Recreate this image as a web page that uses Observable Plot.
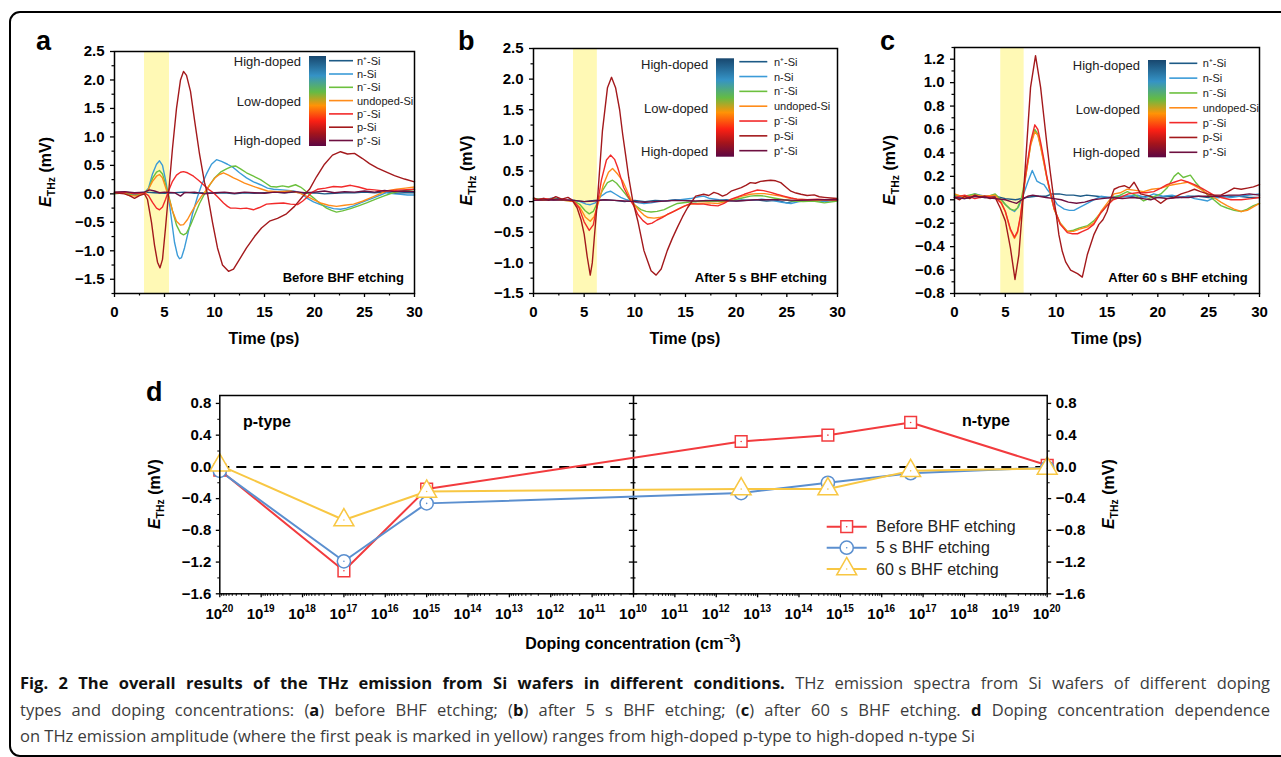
<!DOCTYPE html>
<html><head><meta charset="utf-8">
<script src="https://cdn.jsdelivr.net/npm/d3@7"></script>
<script src="https://cdn.jsdelivr.net/npm/@observablehq/plot@0.6"></script>
<style>
body{margin:0;background:#fff;}
#root{position:relative;width:1281px;height:757px;overflow:hidden;background:#fff;}
.panel{position:absolute;}
.panel svg{overflow:visible;}
#border{position:absolute;left:9px;top:11px;width:1330px;height:746px;border:2px solid #000;border-radius:11px;box-sizing:border-box;}
#caption{position:absolute;left:20px;top:670px;width:1250px;font-family:'Open Sans',sans-serif;font-size:16.5px;line-height:26.5px;color:#3c3c3c;}
#caption .jl{text-align:justify;text-align-last:justify;white-space:nowrap;}
#caption .ln{white-space:nowrap;}
#caption b{color:#111;font-weight:700;}
</style></head>
<body><div id="root"><div id="border"></div>
<div id="pa" class="panel" style="left:0;top:0"></div>
<div id="pb" class="panel" style="left:430px;top:0"></div>
<div id="pc" class="panel" style="left:860px;top:0"></div>
<div id="pd" class="panel" style="left:140px;top:375px"></div>
<div id="caption">
<div class="jl"><b>Fig. 2 The overall results of the THz emission from Si wafers in different conditions.</b> THz emission spectra from Si wafers of different doping</div>
<div class="jl">types and doping concentrations: (<b>a</b>) before BHF etching; (<b>b</b>) after 5 s BHF etching; (<b>c</b>) after 60 s BHF etching. <b>d</b> Doping concentration dependence</div>
<div class="ln">on THz emission amplitude (where the first peak is marked in yellow) ranges from high-doped p-type to high-doped n-type Si</div>
</div>
</div>
<script>
const FONT = "'Liberation Sans', Arial, Helvetica, sans-serif";

// ---------- samples ----------
const sampleKeys = ["n+", "n", "n-", "undoped", "p-", "p", "p+"];
const sampleLabels = ["n\u207A-Si", "n-Si", "n\u207B-Si", "undoped-Si", "p\u207B-Si", "p-Si", "p\u207A-Si"];
const sampleColors = ["#1d5a86", "#3b9bd8", "#6cc03e", "#ff8c1a", "#f22a2a", "#a3191c", "#6e1040"];
const timeTicks = [0, 5, 10, 15, 20, 25, 30];
const abYTicks = [-1.5, -1, -0.5, 0, 0.5, 1, 1.5, 2, 2.5];
const cYTicks = [-0.8, -0.6, -0.4, -0.2, 0, 0.2, 0.4, 0.6, 0.8, 1.0, 1.2];
const bandA = [3.0, 5.5], bandB = [3.95, 6.3], bandC = [4.55, 6.85];

// ---------- panel a: before BHF etching  [time (ps), E_THz (mV)] ----------
const a_nPlus = [[0,0.02],[1,0.03],[2,0.01],[3,0.03],[4,0.02],[5,0.01],[6,0.02],[7,0.03],[8,0.01],[9,0.02],[10,0.01],[11,0.02],[12,0.0],[13,0.02],[14,0.01],[15,0.02],[16,0.03],[17,0.02],[18,0.03],[19,0.01],[20,0.02],[21,0.0],[22,0.01],[23,0.02],[24,0.02],[25,0.03],[26,0.02],[27,0.03],[28,0.01],[29,0.02],[30,0.02]];
const a_n = [[0,0.01],[1,0.02],[2,-0.02],[3,0.02],[3.4,0.1],[3.8,0.35],[4.2,0.52],[4.5,0.58],[4.8,0.5],[5.1,0.25],[5.4,-0.05],[5.7,-0.45],[6.0,-0.85],[6.3,-1.08],[6.5,-1.14],[6.7,-1.12],[7.0,-0.95],[7.4,-0.65],[7.8,-0.35],[8.3,-0.05],[8.7,0.15],[9.2,0.35],[9.7,0.52],[10.2,0.6],[10.7,0.57],[11.3,0.52],[11.9,0.46],[12.5,0.37],[13.2,0.28],[13.9,0.21],[14.6,0.16],[15.3,0.1],[15.9,0.08],[16.8,0.07],[17.9,0.05],[18.6,0.02],[19.2,-0.07],[19.9,-0.14],[20.6,-0.19],[21.3,-0.23],[21.9,-0.26],[22.6,-0.27],[23.2,-0.25],[23.9,-0.21],[24.6,-0.16],[25.3,-0.11],[25.9,-0.07],[26.6,-0.02],[27.2,0.02],[28,0.0],[28.6,-0.01],[29.3,-0.02],[30,-0.02]];
const a_nMinus = [[0,0.0],[1,0.02],[2,-0.03],[3,0.0],[3.4,0.08],[3.8,0.27],[4.2,0.38],[4.5,0.41],[4.8,0.35],[5.1,0.17],[5.4,-0.02],[5.8,-0.3],[6.2,-0.55],[6.6,-0.69],[6.9,-0.72],[7.2,-0.69],[7.6,-0.55],[8.0,-0.38],[8.5,-0.17],[9.0,0.0],[9.5,0.15],[10.0,0.28],[10.6,0.38],[11.2,0.44],[11.7,0.48],[12.1,0.49],[12.6,0.44],[13.2,0.37],[13.9,0.31],[14.6,0.25],[15.1,0.19],[15.6,0.13],[16.2,0.12],[16.8,0.14],[17.4,0.12],[18.1,0.16],[18.6,0.12],[18.9,0.08],[19.4,0.0],[19.9,-0.07],[20.5,-0.16],[21.2,-0.25],[21.7,-0.29],[22.2,-0.32],[22.8,-0.3],[23.6,-0.26],[24.4,-0.21],[25.2,-0.16],[26.0,-0.1],[26.9,-0.04],[27.7,0.01],[28.6,0.05],[29.3,0.06],[30,0.08]];
const a_undoped = [[0,0.03],[0.8,0.02],[1.5,-0.03],[2.2,-0.04],[2.8,0.0],[3.3,0.05],[3.8,0.22],[4.2,0.31],[4.5,0.34],[4.8,0.28],[5.1,0.12],[5.4,-0.05],[5.8,-0.3],[6.2,-0.48],[6.6,-0.55],[6.9,-0.54],[7.3,-0.45],[7.7,-0.32],[8.2,-0.17],[8.7,-0.04],[9.1,0.05],[9.6,0.18],[10.1,0.29],[10.5,0.34],[10.9,0.37],[11.4,0.33],[11.9,0.28],[12.3,0.25],[13.0,0.19],[13.9,0.13],[14.6,0.09],[15.3,0.05],[16.3,0.04],[17.6,0.05],[18.4,0.02],[19.2,-0.04],[19.9,-0.1],[20.6,-0.16],[21.4,-0.2],[22.2,-0.22],[23.0,-0.2],[23.9,-0.18],[24.8,-0.13],[25.6,-0.07],[26.4,-0.01],[27.2,0.05],[28.2,0.08],[29.1,0.1],[30,0.12]];
const a_pMinus = [[0,0.02],[1,0.03],[2,0.0],[3,0.02],[3.4,-0.03],[3.8,-0.15],[4.2,-0.25],[4.5,-0.28],[4.8,-0.23],[5.1,-0.1],[5.4,0.05],[5.8,0.22],[6.2,0.33],[6.6,0.38],[6.9,0.39],[7.3,0.37],[7.9,0.31],[8.4,0.24],[8.9,0.16],[9.4,0.08],[9.9,0.02],[10.4,-0.07],[10.9,-0.16],[11.3,-0.22],[11.6,-0.25],[12.1,-0.25],[12.6,-0.26],[13.2,-0.25],[13.9,-0.28],[14.5,-0.24],[15.2,-0.18],[16.0,-0.17],[16.9,-0.16],[17.6,-0.18],[18.3,-0.19],[18.8,-0.13],[19.2,-0.07],[19.7,0.02],[20.3,0.08],[21.1,0.1],[21.9,0.13],[22.7,0.12],[23.6,0.15],[24.4,0.12],[25.2,0.08],[26.0,0.07],[26.9,0.05],[27.8,0.06],[28.8,0.07],[30,0.08]];
const a_p = [[0,0.02],[1,0.0],[1.5,-0.03],[2,-0.08],[2.5,-0.03],[3,0.0],[3.3,-0.1],[3.7,-0.5],[4.0,-0.9],[4.3,-1.2],[4.55,-1.3],[4.8,-1.15],[5.1,-0.6],[5.4,0.0],[5.8,0.8],[6.2,1.5],[6.6,2.0],[6.9,2.15],[7.2,2.08],[7.6,1.8],[8.0,1.3],[8.5,0.7],[9.0,0.2],[9.3,0.0],[9.8,-0.5],[10.3,-0.95],[10.8,-1.25],[11.4,-1.36],[11.9,-1.32],[12.5,-1.15],[13.2,-0.95],[14.0,-0.75],[14.7,-0.6],[15.5,-0.48],[16.3,-0.43],[17.2,-0.35],[18.0,-0.22],[18.8,-0.05],[19.5,0.08],[20.2,0.3],[21.0,0.52],[21.8,0.68],[22.6,0.74],[23.3,0.7],[24.0,0.71],[24.8,0.62],[25.5,0.53],[26.3,0.45],[27.2,0.38],[28.0,0.32],[29.0,0.26],[30,0.21]];
const a_pPlus = [[0,0.03],[1,0.04],[2,0.02],[3,0.03],[3.5,0.07],[4,0.05],[4.5,0.02],[5,0.03],[6,0.02],[6.6,-0.04],[7,0.02],[8,0.03],[9,0.0],[10,0.02],[11,0.03],[12,0.01],[13,0.03],[14,0.02],[15,0.01],[16,0.03],[17,0.02],[18,0.04],[19,0.02],[20,0.03],[21,0.05],[22,0.02],[23,0.04],[24,0.03],[25,0.05],[26,0.03],[27,0.06],[28,0.04],[29,0.05],[30,0.04]];

// ---------- panel b: after 5 s BHF etching ----------
const b_nPlus = [[0,0.05],[1,0.03],[2,0.06],[3,0.03],[4,0.02],[5,0.0],[6,0.02],[7,0.03],[8,0.02],[9,0.0],[10,0.02],[11,0.0],[12,0.02],[13,0.01],[14,0.03],[15,0.02],[16,0.0],[17,0.02],[18,0.01],[19,0.03],[20,0.01],[21,0.02],[22,0.03],[23,0.01],[24,0.02],[25,-0.02],[26,0.02],[27,0.01],[28,0.03],[29,0.02],[30,0.03]];
const b_n = [[0,0.03],[1,0.05],[2,0.02],[3,0.04],[4,0.02],[4.6,0.0],[5.2,-0.04],[5.6,-0.05],[6.1,-0.02],[6.6,0.08],[7.2,0.15],[7.6,0.17],[8.1,0.12],[8.6,0.07],[9.2,0.03],[9.8,0.0],[10.4,-0.02],[10.9,-0.03],[11.6,-0.02],[12.3,0.0],[12.9,0.01],[13.6,0.02],[14.5,0.03],[15.5,0.05],[16.3,0.08],[16.8,0.09],[17.4,0.05],[18.3,0.03],[19.5,0.01],[20.5,0.03],[21.5,0.02],[22.5,0.04],[23.5,0.02],[24.5,-0.01],[25.4,-0.03],[26.2,0.0],[27.5,0.02],[28.7,0.0],[30,0.02]];
const b_nMinus = [[0,0.05],[1,0.03],[2,0.04],[3,0.02],[4,0.01],[4.6,-0.05],[5.1,-0.15],[5.5,-0.2],[5.9,-0.16],[6.3,-0.02],[6.8,0.18],[7.3,0.31],[7.8,0.35],[8.2,0.3],[8.6,0.22],[9.1,0.12],[9.6,0.01],[10.1,-0.07],[10.6,-0.13],[11.1,-0.16],[11.6,-0.17],[12.2,-0.16],[12.9,-0.13],[13.5,-0.08],[14.2,-0.03],[15.2,-0.01],[16.2,0.0],[17.5,0.01],[18.8,0.0],[19.8,0.03],[20.6,0.06],[21.4,0.09],[22.1,0.1],[22.8,0.09],[23.7,0.06],[24.7,0.03],[25.6,0.01],[26.6,0.0],[27.6,0.01],[28.7,-0.02],[30,0.01]];
const b_undoped = [[0,0.03],[1,0.02],[2,0.04],[3,0.02],[4,0.0],[4.6,-0.1],[5.1,-0.25],[5.6,-0.32],[6.0,-0.24],[6.4,-0.02],[6.9,0.28],[7.4,0.48],[7.8,0.54],[8.3,0.45],[8.8,0.34],[9.2,0.19],[9.6,0.04],[10.0,-0.06],[10.4,-0.14],[10.9,-0.22],[11.3,-0.26],[11.9,-0.27],[12.4,-0.26],[13.0,-0.23],[13.6,-0.18],[14.3,-0.12],[14.9,-0.07],[15.6,-0.04],[16.3,-0.03],[17.3,-0.02],[18.2,-0.03],[19.0,0.0],[19.8,0.05],[20.6,0.09],[21.4,0.12],[22.1,0.13],[22.8,0.13],[23.6,0.11],[24.4,0.09],[25.2,0.06],[26.0,0.04],[27.0,0.03],[28.0,0.02],[29,0.03],[30,0.02]];
const b_pMinus = [[0,0.02],[1,0.05],[2,0.03],[3,0.04],[4,0.0],[4.5,-0.1],[5.0,-0.33],[5.5,-0.47],[5.9,-0.38],[6.3,-0.05],[6.7,0.35],[7.2,0.68],[7.6,0.76],[8.0,0.69],[8.3,0.56],[8.6,0.4],[8.9,0.23],[9.3,0.1],[9.6,0.01],[10.0,-0.1],[10.3,-0.21],[10.8,-0.31],[11.25,-0.37],[11.7,-0.35],[12.2,-0.3],[12.7,-0.26],[13.2,-0.21],[13.7,-0.17],[14.2,-0.13],[14.8,-0.08],[15.5,-0.03],[16.2,-0.04],[16.8,-0.04],[17.5,-0.06],[18.2,-0.07],[18.8,-0.03],[19.5,0.04],[20.2,0.08],[20.8,0.12],[21.5,0.16],[22.1,0.19],[22.7,0.18],[23.4,0.15],[24.0,0.12],[24.7,0.09],[25.4,0.06],[26.0,0.04],[27,0.03],[28,0.04],[29,0.03],[30,0.03]];
const b_p = [[0,0.06],[0.5,0.03],[1,0.05],[1.5,0.02],[2.2,0.08],[2.8,0.04],[3.4,0.07],[3.8,0.03],[4.3,-0.1],[4.7,-0.3],[5.0,-0.53],[5.3,-0.9],[5.6,-1.2],[5.8,-1.0],[6.0,-0.59],[6.3,0.0],[6.8,1.15],[7.3,1.86],[7.7,2.03],[8.1,1.86],[8.5,1.5],[8.8,1.1],[9.1,0.75],[9.4,0.39],[9.8,0.01],[10.3,-0.32],[10.9,-0.8],[11.6,-1.13],[12.1,-1.2],[12.6,-1.1],[13.2,-0.8],[13.7,-0.6],[14.2,-0.42],[14.7,-0.25],[15.2,-0.1],[16.0,0.09],[16.8,0.12],[17.3,0.1],[17.8,0.15],[18.2,0.13],[18.65,0.09],[19.1,0.12],[19.5,0.17],[20.0,0.2],[20.5,0.23],[21.0,0.27],[21.4,0.31],[21.9,0.3],[22.4,0.33],[22.9,0.34],[23.4,0.35],[23.9,0.34],[24.4,0.31],[24.9,0.24],[25.4,0.17],[25.9,0.14],[26.4,0.12],[27.0,0.1],[27.7,0.11],[28.2,0.08],[28.7,0.07],[29.3,0.06],[30,0.05]];
const b_pPlus = [[0,0.02],[2,0.03],[4,0.02],[5,0.0],[6,0.01],[7,0.03],[8,0.02],[9,0.01],[10,0.0],[11,-0.01],[12,0.0],[13,0.01],[14,0.02],[16,0.01],[18,0.02],[20,0.01],[22,0.03],[24,0.03],[26,0.02],[28,0.03],[30,0.03]];

// ---------- panel c: after 60 s BHF etching ----------
const c_nPlus = [[0,0.02],[1,0.01],[2,0.03],[3,0.02],[4,0.03],[5,0.01],[6,0.0],[7,0.02],[8,0.03],[9,0.03],[9.6,0.05],[10.3,0.05],[11,0.04],[11.7,0.04],[12.4,0.03],[13,0.04],[14,0.03],[15,0.02],[16,0.02],[17,0.03],[18,0.02],[19,0.03],[20,0.02],[21,0.03],[22,0.02],[23,0.03],[24,0.03],[25,0.02],[26,0.02],[27,0.03],[28,0.03],[29,0.02],[30,0.02]];
const c_n = [[0,0.03],[1,0.02],[2,0.05],[3,0.03],[4,0.04],[4.6,0.0],[5.0,-0.04],[5.5,-0.08],[5.9,-0.1],[6.3,-0.06],[6.8,0.05],[7.2,0.15],[7.65,0.25],[8.1,0.16],[8.5,0.14],[8.8,0.13],[9.1,0.09],[9.45,0.05],[10.1,-0.04],[10.8,-0.08],[11.3,-0.09],[11.75,-0.09],[12.4,-0.06],[13.06,-0.03],[13.7,0.0],[14.4,0.03],[15.2,0.02],[16.0,0.03],[17.0,0.03],[18.0,0.04],[18.8,0.02],[19.6,0.05],[20.5,0.03],[21.4,0.04],[22.3,0.02],[23.0,0.03],[23.6,0.01],[24.3,0.0],[24.9,-0.01],[25.6,0.02],[26.4,0.03],[27.2,0.02],[28.0,0.03],[29.0,0.04],[30,0.05]];
const c_nMinus = [[0,0.04],[1,0.03],[2,0.05],[3,0.02],[4,0.05],[4.6,0.0],[5.0,-0.04],[5.5,-0.08],[5.9,-0.09],[6.2,-0.07],[6.6,0.02],[7.0,0.2],[7.5,0.48],[7.9,0.6],[8.2,0.56],[8.5,0.45],[8.8,0.32],[9.1,0.18],[9.5,0.03],[9.8,-0.08],[10.4,-0.2],[11.1,-0.27],[11.7,-0.26],[12.3,-0.24],[13.1,-0.22],[13.7,-0.18],[14.4,-0.11],[15.0,-0.05],[15.7,0.02],[16.3,0.04],[17.0,0.07],[17.8,0.04],[18.6,-0.01],[19.4,0.02],[20.3,0.05],[20.9,0.1],[21.6,0.2],[22.0,0.23],[22.5,0.19],[23.2,0.21],[23.7,0.15],[24.2,0.1],[24.9,0.04],[25.5,0.0],[26.2,-0.05],[26.8,-0.07],[27.5,-0.09],[28.2,-0.1],[28.8,-0.08],[29.4,-0.05],[30,-0.03]];
const c_undoped = [[0,0.05],[1,0.02],[2,0.04],[3,0.03],[4,0.04],[4.6,-0.02],[5.0,-0.1],[5.5,-0.26],[5.9,-0.33],[6.2,-0.28],[6.5,-0.14],[7.0,0.2],[7.5,0.47],[7.9,0.58],[8.2,0.55],[8.5,0.44],[8.8,0.31],[9.1,0.18],[9.5,0.03],[9.8,-0.08],[10.4,-0.2],[11.1,-0.27],[11.7,-0.27],[12.3,-0.25],[13.1,-0.23],[13.7,-0.2],[14.4,-0.1],[15.0,-0.03],[15.7,0.05],[16.3,0.06],[17.0,0.09],[17.8,0.08],[18.6,0.07],[19.4,0.09],[20.3,0.1],[21.0,0.12],[21.6,0.13],[22.3,0.14],[22.9,0.15],[23.6,0.12],[24.2,0.09],[24.9,0.05],[25.5,0.02],[26.2,-0.02],[26.8,-0.05],[27.5,-0.08],[28.2,-0.1],[28.8,-0.09],[29.4,-0.06],[30,-0.03]];
const c_pMinus = [[0,0.02],[1,0.04],[2,0.01],[3,0.03],[4,0.02],[4.6,-0.03],[5.0,-0.1],[5.5,-0.25],[5.9,-0.32],[6.2,-0.27],[6.5,-0.13],[7.0,0.22],[7.5,0.5],[7.9,0.64],[8.2,0.6],[8.5,0.48],[8.8,0.34],[9.1,0.19],[9.5,0.04],[9.8,-0.07],[10.4,-0.21],[11.1,-0.28],[11.6,-0.29],[12.1,-0.29],[12.6,-0.27],[13.1,-0.25],[13.7,-0.21],[14.4,-0.11],[15.0,-0.05],[15.6,0.0],[16.3,0.02],[17.1,0.05],[18,0.06],[18.8,0.06],[19.6,0.07],[20.3,0.1],[20.9,0.13],[21.6,0.15],[22.3,0.17],[23.0,0.15],[23.6,0.13],[24.3,0.1],[24.9,0.07],[25.5,0.04],[26.2,0.02],[27.2,0.0],[28.2,0.0],[29.2,0.01],[30,0.02]];
const c_p = [[0,0.02],[0.5,0.0],[1,0.03],[1.5,0.01],[2,0.04],[2.5,0.02],[3,0.03],[3.5,0.01],[4,0.02],[4.5,-0.07],[5.0,-0.18],[5.5,-0.41],[5.95,-0.68],[6.33,-0.47],[6.66,-0.1],[7.0,0.33],[7.48,0.96],[7.97,1.23],[8.47,0.96],[8.8,0.7],[9.12,0.45],[9.4,0.25],[9.7,0.05],[10.0,-0.12],[10.27,-0.3],[10.6,-0.44],[10.93,-0.53],[11.42,-0.6],[12.1,-0.63],[12.57,-0.66],[13.06,-0.47],[13.4,-0.38],[13.7,-0.3],[14.2,-0.21],[14.6,-0.17],[15.0,-0.1],[15.4,0.02],[15.7,0.09],[16.2,0.11],[16.7,0.12],[17.2,0.1],[17.66,0.15],[18.0,0.1],[18.3,0.05],[18.8,0.04],[19.3,0.03],[19.8,0.0],[20.3,-0.03],[20.9,0.01],[21.6,0.02],[22.3,0.05],[23.0,0.07],[23.6,0.09],[24.2,0.07],[24.9,0.05],[25.5,0.04],[26.2,0.04],[26.9,0.07],[27.5,0.1],[28.2,0.09],[28.8,0.1],[29.4,0.11],[30,0.13]];
const c_pPlus = [[0,0.02],[1,0.01],[2,0.03],[3,0.02],[4,0.01],[5,0.0],[5.7,-0.02],[6.1,-0.03],[6.6,0.0],[7.2,0.03],[7.7,0.04],[8.3,0.03],[9,0.02],[9.8,0.01],[10.5,0.0],[11.2,-0.02],[12,-0.03],[12.8,-0.02],[13.6,0.0],[14.5,0.01],[15.5,0.02],[16.5,0.01],[17.5,0.02],[18.5,0.01],[19.3,0.0],[20,0.02],[21,0.01],[22,0.02],[23,0.02],[24,0.03],[25,0.03],[26,0.03],[27,0.04],[28,0.04],[29,0.05],[30,0.04]];

// ---------- panel d: first-peak amplitude vs doping ----------
const dType = ["p", "p", "p", "n", "n", "n", "n"];
const dConc = [1e20, 1e17, 1e15, 4e12, 5e14, 5e16, 1e20];
const dBefore = [-0.04, -1.31, -0.28, 0.32, 0.40, 0.56, 0.02];
const d5s = [-0.05, -1.19, -0.46, -0.33, -0.20, -0.08, -0.01];
const d60s = [0.02, -0.67, -0.31, -0.28, -0.28, -0.05, -0.02];
const dSeriesNames = ["Before BHF etching", "5 s BHF etching", "60 s BHF etching"];
const dColors = ["#f23b3e", "#5b8fcf", "#f8c743"];
const dSymbols = ["square", "circle", "triangle"];
const dYTicks = [-1.6, -1.2, -0.8, -0.4, 0, 0.4, 0.8];
const dExpTicks = [20, 19, 18, 17, 16, 15, 14, 13, 12, 11, 10, 11, 12, 13, 14, 15, 16, 17, 18, 19, 20];

const BAND = "#fff9b5";
const fmt1 = d3.format(".1f");

function txt(sel, o) {
  const t = sel.append("text").attr("font-family", FONT).attr("fill", o.fill || "#000")
    .attr("font-weight", o.bold ? "bold" : "normal").attr("font-size", o.size)
    .attr("text-anchor", o.anchor || "start").attr("x", o.x).attr("y", o.y);
  if (o.text != null) t.text(o.text);
  return t;
}

function yTitle(sel, x, y) {
  const t = sel.append("text").attr("transform", `translate(${x + 5.5},${y}) rotate(-90)`)
    .attr("text-anchor", "middle").attr("font-family", FONT).attr("font-weight", "bold").attr("font-size", 16).attr("fill", "#000");
  t.append("tspan").attr("font-style", "italic").text("E");
  t.append("tspan").attr("font-size", 10.5).attr("dy", 4).text("THz");
  t.append("tspan").attr("dy", -4).text(" (mV)");
}

function tracePanel(id, cfg) {
  const rows = [];
  cfg.series.forEach((arr, i) => arr.forEach(([t, v]) => rows.push({t, v, s: sampleKeys[i]})));
  const yt = cfg.yTicks, step = yt[1] - yt[0];
  const minorY = [];
  for (let v = yt[0] - step / 2; v <= cfg.yDomain[1] + 1e-9; v += step / 2) {
    if (v >= cfg.yDomain[0] - 1e-9 && !yt.some(u => Math.abs(u - v) < 1e-9)) minorY.push(v);
  }
  const minorX = d3.range(2.5, 30, 5);
  const plot = Plot.plot({
    width: cfg.width, height: 350,
    marginLeft: cfg.ml, marginRight: cfg.mr, marginTop: cfg.mt, marginBottom: 350 - 293,
    x: {domain: [0, 30]},
    y: {domain: cfg.yDomain},
    color: {domain: sampleKeys, range: sampleColors},
    style: {fontFamily: FONT, fontSize: "15px", fontWeight: "bold", color: "#000", background: "transparent", overflow: "visible"},
    marks: [
      Plot.rect([cfg.band], {x1: d => d[0], x2: d => d[1], y1: () => cfg.yDomain[0], y2: () => cfg.yDomain[1], fill: BAND}),
      Plot.axisX(timeTicks, {tickSize: 4, tickPadding: 9, tickFormat: d => String(d), label: null, strokeWidth: 1.3}),
      Plot.axisX(minorX, {tickSize: 2.5, tickFormat: () => "", label: null, strokeWidth: 1.2}),
      Plot.axisY(yt, {tickSize: 4, tickPadding: 6, tickFormat: fmt1, label: null, strokeWidth: 1.3}),
      Plot.axisY(minorY, {tickSize: 2.5, tickFormat: () => "", label: null, strokeWidth: 1.2}),
      Plot.line(rows, {x: "t", y: "v", z: "s", stroke: "s", strokeWidth: 1.4}),
      Plot.frame({stroke: "#000", strokeWidth: 1.5})
    ]
  });
  document.getElementById(id).appendChild(plot);
  const svg = d3.select(plot);
  const fx0 = cfg.ml, fx1 = cfg.width - cfg.mr;
  txt(svg, {x: (fx0 + fx1) / 2, y: 343.5, anchor: "middle", bold: true, size: 16, text: "Time (ps)"});
  yTitle(svg, cfg.yTitleX, (cfg.mt + 293) / 2);
  txt(svg, {x: cfg.letterX, y: 50, bold: true, size: 27, text: cfg.letter});
  txt(svg, {x: cfg.condX, y: 281.5, anchor: "end", bold: true, size: 13, text: cfg.cond});
  // legend: colour bar + sample lines
  const L = cfg.legend;
  const gid = "grad" + id;
  const grad = svg.append("defs").append("linearGradient").attr("id", gid).attr("x1", 0).attr("y1", 0).attr("x2", 0).attr("y2", 1);
  [["0%", "#18476e"], ["22%", "#3593c6"], ["40%", "#64bb45"], ["55%", "#ff9306"], ["72%", "#fb2014"], ["86%", "#a4141c"], ["100%", "#5c0743"]]
    .forEach(([o, c]) => grad.append("stop").attr("offset", o).attr("stop-color", c));
  svg.append("rect").attr("x", L.barX).attr("y", L.barY0).attr("width", L.barW).attr("height", L.barY1 - L.barY0).attr("fill", `url(#${gid})`);
  sampleKeys.forEach((k, i) => {
    const y = L.row0 + i * L.dRow;
    svg.append("line").attr("x1", L.lx0).attr("x2", L.lx1).attr("y1", y).attr("y2", y).attr("stroke", sampleColors[i]).attr("stroke-width", 1.6);
    txt(svg, {x: L.tx, y: y + 4, size: 11, fill: "#222", text: sampleLabels[i]});
  });
  [["High-doped", L.hy0], ["Low-doped", L.hy1], ["High-doped", L.hy2]].forEach(([s, y]) => {
    txt(svg, {x: L.hx, y: y + 4.6, anchor: "end", size: 13, fill: "#222", text: s});
  });
}

tracePanel("pa", {
  series: [a_nPlus, a_n, a_nMinus, a_undoped, a_pMinus, a_p, a_pPlus],
  width: 430, ml: 114, mr: 16, mt: 51, yDomain: [-1.75, 2.5], yTicks: abYTicks, band: bandA,
  yTitleX: 45, letter: "a", letterX: 36, cond: "Before BHF etching", condX: 404,
  legend: {barX: 309, barW: 17, barY0: 56, barY1: 146, lx0: 329, lx1: 353, tx: 357, row0: 60.7, dRow: 13.3, hx: 301, hy0: 61.7, hy1: 101.7, hy2: 140.7}
});
tracePanel("pb", {
  series: [b_nPlus, b_n, b_nMinus, b_undoped, b_pMinus, b_p, b_pPlus],
  width: 430, ml: 103, mr: 23, mt: 48, yDomain: [-1.5, 2.5], yTicks: abYTicks, band: bandB,
  yTitleX: 36.7, letter: "b", letterX: 28, cond: "After 5 s BHF etching", condX: 397,
  legend: {barX: 286, barW: 18, barY0: 58.3, barY1: 156.7, lx0: 309.3, lx1: 337.3, tx: 344, row0: 61.7, dRow: 14.83, hx: 278.3, hy0: 64.3, hy1: 108.7, hy2: 151.7}
});
tracePanel("pc", {
  series: [c_nPlus, c_n, c_nMinus, c_undoped, c_pMinus, c_p, c_pPlus],
  width: 421, ml: 94, mr: 22, mt: 47, yDomain: [-0.8, 1.3], yTicks: cYTicks, band: bandC,
  yTitleX: 29.3, letter: "c", letterX: 20, cond: "After 60 s BHF etching", condX: 387.7,
  legend: {barX: 288, barW: 18, barY0: 60, barY1: 157.3, lx0: 309.3, lx1: 337.3, tx: 342.7, row0: 63.3, dRow: 14.83, hx: 280, hy0: 65.7, hy1: 109.3, hy2: 152.7}
});

// ---------- panel d ----------
(function () {
  const pos = (t, c) => t === "p" ? 20 - Math.log10(c) : Math.log10(c);
  const seriesVals = [dBefore, d5s, d60s];
  const rows = [];
  seriesVals.forEach((vals, si) => vals.forEach((v, i) => rows.push({s: dSeriesNames[si], x: pos(dType[i], dConc[i]), v})));
  rows.sort((a, b) => a.x - b.x);
  const W = 1000, H = 280, ml = 79.3, mr = 93.3, mt = 20, mb = 61.7;
  const decadePos = d3.range(0, 21);
  const minorPos = [];
  for (let k = 10; k < 20; k++) for (let m = 2; m <= 9; m++) {
    minorPos.push(20 - k - Math.log10(m));
    minorPos.push(k + Math.log10(m));
  }
  const minorY = d3.range(-1.4, 0.9, 0.4).map(v => +v.toFixed(2));
  const R = 6.6;
  const marks = [
    Plot.ruleY([0], {stroke: "#000", strokeWidth: 2, strokeDasharray: "10,7"}),
    Plot.ruleX([10], {stroke: "#000", strokeWidth: 1.6}),
    Plot.ruleY(dYTicks, {x1: 9.9, x2: 10.1, stroke: "#000", strokeWidth: 1.3}),
    Plot.ruleY(minorY, {x1: 9.94, x2: 10.06, stroke: "#000", strokeWidth: 1.2}),
    Plot.axisY(dYTicks, {anchor: "left", tickSize: 3.5, tickPadding: 5, tickFormat: fmt1, label: null, strokeWidth: 1.3}),
    Plot.axisY(minorY, {anchor: "left", tickSize: 2, tickFormat: () => "", label: null}),
    Plot.axisY(dYTicks, {anchor: "right", tickSize: 3.5, tickPadding: 5, tickFormat: fmt1, label: null, strokeWidth: 1.3}),
    Plot.axisY(minorY, {anchor: "right", tickSize: 2, tickFormat: () => "", label: null}),
    Plot.axisX(decadePos, {tickSize: 4, tickFormat: () => "", label: null, strokeWidth: 1.3}),
    Plot.axisX(minorPos, {tickSize: 2.5, tickFormat: () => "", label: null, strokeWidth: 1}),
    Plot.line(rows, {x: "x", y: "v", z: "s", stroke: "s", strokeWidth: 2})
  ];
  dSeriesNames.forEach((name, si) => {
    const sub = rows.filter(r => r.s === name);
    marks.push(Plot.dot(sub, {x: "x", y: "v", symbol: () => dSymbols[si], r: si === 2 ? 7.4 : R, fill: "white", stroke: dColors[si], strokeWidth: 1.5}));
    marks.push(Plot.dot(sub, {x: "x", y: "v", r: 0.8, fill: dColors[si], stroke: "none"}));
  });
  marks.push(Plot.frame({stroke: "#000", strokeWidth: 1.5}));
  const plot = Plot.plot({
    width: W, height: H, marginLeft: ml, marginRight: mr, marginTop: mt, marginBottom: mb,
    x: {domain: [0, 20]}, y: {domain: [-1.6, 0.9]},
    color: {domain: dSeriesNames, range: dColors},
    symbol: {type: "identity"},
    style: {fontFamily: FONT, fontSize: "15px", fontWeight: "bold", color: "#000", background: "transparent", overflow: "visible"},
    marks
  });
  document.getElementById("pd").appendChild(plot);
  const svg = d3.select(plot);
  const xs = plot.scale("x");
  decadePos.forEach((p, i) => {
    const t = txt(svg, {x: xs.apply(p), y: 243.5, anchor: "middle", bold: true, size: 15});
    t.append("tspan").text("10");
    t.append("tspan").attr("font-size", 10).attr("dy", -7).text(String(dExpTicks[i]));
  });
  const xt = txt(svg, {x: (ml + W - mr) / 2, y: 273.5, anchor: "middle", bold: true, size: 16});
  xt.append("tspan").text("Doping concentration (cm");
  xt.append("tspan").attr("font-size", 10.5).attr("dy", -7).text("\u22123");
  xt.append("tspan").attr("dy", 7).text(")");
  const fy = (mt + H - mb) / 2;
  yTitle(svg, 14, fy);
  yTitle(svg, 968.3, fy);
  txt(svg, {x: 6, y: 26, bold: true, size: 27, text: "d"});
  txt(svg, {x: 103, y: 52, bold: true, size: 16, text: "p-type"});
  txt(svg, {x: 870, y: 51, anchor: "end", bold: true, size: 16, text: "n-type"});
  // legend
  const rowsY = [151.7, 172.7, 194];
  dSeriesNames.forEach((name, si) => {
    const y = rowsY[si];
    svg.append("line").attr("x1", 686.7).attr("x2", 726.7).attr("y1", y).attr("y2", y).attr("stroke", dColors[si]).attr("stroke-width", 2);
    const r = si === 2 ? 7.4 : R;
    const sym = [d3.symbolSquare, d3.symbolCircle, d3.symbolTriangle][si];
    svg.append("path").attr("d", d3.symbol(sym, Math.PI * r * r)()).attr("transform", `translate(706.7,${y})`)
      .attr("fill", "white").attr("stroke", dColors[si]).attr("stroke-width", 1.5);
    svg.append("circle").attr("cx", 706.7).attr("cy", y).attr("r", 0.8).attr("fill", dColors[si]);
    txt(svg, {x: 736, y: y + 5.5, size: 16, fill: "#222", text: name});
  });
})();
</script>
</body></html>
